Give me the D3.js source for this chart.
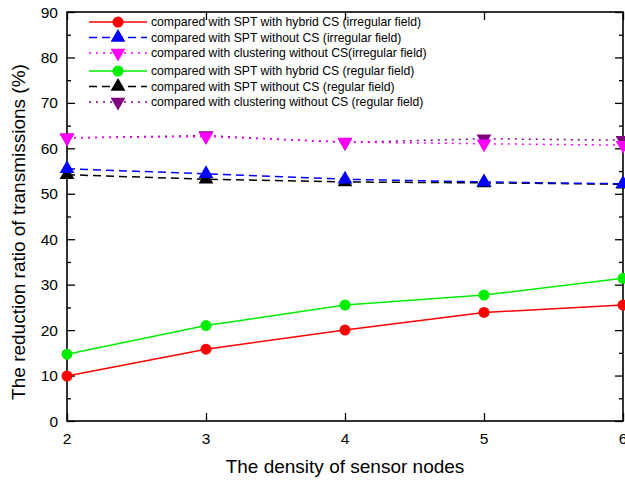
<!DOCTYPE html>
<html>
<head>
<meta charset="utf-8">
<script src="https://cdn.jsdelivr.net/npm/d3@7"></script>
<style>
  html, body { margin: 0; padding: 0; background: #fff; }
  svg { display: block; font-family: "Liberation Sans", Arial, sans-serif; }
</style>
</head>
<body>
<svg id="chart" width="625" height="481"></svg>
<script>
// Sensor node density (x axis)
const density = [2, 3, 4, 5, 6];

// Reduction ratio of transmissions (%) for each comparison
const sptHybridIrregular = [9.9, 15.8, 20.0, 23.9, 25.5];
const sptNoCsIrregular = [55.5, 54.4, 53.2, 52.6, 52.2];
const clusterNoCsIrregular = [62.3, 62.6, 61.4, 61.0, 60.7];
const sptHybridRegular = [14.7, 21.0, 25.5, 27.7, 31.4];
const sptNoCsRegular = [54.2, 53.2, 52.6, 52.4, 52.1];
const clusterNoCsRegular = [62.3, 62.8, 61.3, 62.1, 61.8];

const legendNames = [
  "compared with SPT with hybrid CS (irregular field)",
  "compared with SPT without CS (irregular field)",
  "compared with clustering without CS(irregular field)",
  "compared with SPT with hybrid CS (regular field)",
  "compared with SPT without CS (regular field)",
  "compared with clustering without CS (regular field)"
];

const yTicks = [0, 10, 20, 30, 40, 50, 60, 70, 80, 90];
const xTicks = [2, 3, 4, 5, 6];

const series = [
  { name: legendNames[0], values: sptHybridIrregular, color: "#ff0000", dash: null, marker: "circle" },
  { name: legendNames[1], values: sptNoCsIrregular, color: "#0000ff", dash: "8,5", marker: "up" },
  { name: legendNames[2], values: clusterNoCsIrregular, color: "#ff00ff", dash: "2,5", marker: "down" },
  { name: legendNames[3], values: sptHybridRegular, color: "#00ee00", dash: null, marker: "circle" },
  { name: legendNames[4], values: sptNoCsRegular, color: "#000000", dash: "8,5", marker: "up" },
  { name: legendNames[5], values: clusterNoCsRegular, color: "#800080", dash: "2,5", marker: "down" }
];

const svg = d3.select("#chart");
const margin = { left: 67, right: 2, top: 12, bottom: 60 };
const W = 625, H = 481;
const x0 = margin.left, x1 = W - margin.right;
const y0 = H - margin.bottom, y1 = margin.top;

const x = d3.scaleLinear().domain([2, 6]).range([x0, x1]);
const y = d3.scaleLinear().domain([0, 90]).range([y0, y1]);

// Axes with inward ticks
const minorY = d3.range(5, 90, 10);
const axisStyle = g => {
  g.select(".domain").remove();
  g.selectAll("line").attr("stroke", "#000").attr("stroke-width", 1.3);
};

// left
svg.append("g").attr("transform", `translate(${x0},0)`)
  .call(d3.axisRight(y).tickValues(yTicks).tickSize(8).tickFormat(""))
  .call(axisStyle);
svg.append("g").attr("transform", `translate(${x0},0)`)
  .call(d3.axisRight(y).tickValues(minorY).tickSize(4).tickFormat(""))
  .call(axisStyle);
// right
svg.append("g").attr("transform", `translate(${x1},0)`)
  .call(d3.axisLeft(y).tickValues(yTicks).tickSize(8).tickFormat(""))
  .call(axisStyle);
svg.append("g").attr("transform", `translate(${x1},0)`)
  .call(d3.axisLeft(y).tickValues(minorY).tickSize(4).tickFormat(""))
  .call(axisStyle);
// bottom
svg.append("g").attr("transform", `translate(0,${y0})`)
  .call(d3.axisTop(x).tickValues(xTicks).tickSize(8).tickFormat(""))
  .call(axisStyle);
// top
svg.append("g").attr("transform", `translate(0,${y1})`)
  .call(d3.axisBottom(x).tickValues(xTicks).tickSize(8).tickFormat(""))
  .call(axisStyle);

// Tick labels
svg.append("g").selectAll("text").data(yTicks).join("text")
  .attr("x", x0 - 9).attr("y", d => y(d) + 5.5)
  .attr("text-anchor", "end").attr("font-size", 15.5).attr("fill", "#000")
  .text(d => d);
svg.append("g").selectAll("text").data(xTicks).join("text")
  .attr("x", d => x(d)).attr("y", y0 + 23)
  .attr("text-anchor", "middle").attr("font-size", 15.5).attr("fill", "#000")
  .text(d => d);

// Frame
svg.append("rect")
  .attr("x", x0).attr("y", y1).attr("width", x1 - x0).attr("height", y0 - y1)
  .attr("fill", "none").attr("stroke", "#000").attr("stroke-width", 1.6);

// Axis titles
svg.append("text")
  .attr("x", (x0 + x1) / 2).attr("y", 473)
  .attr("text-anchor", "middle").attr("font-size", 19).attr("fill", "#000")
  .text("The density of sensor nodes");
svg.append("text")
  .attr("transform", `translate(25,232) rotate(-90)`)
  .attr("text-anchor", "middle").attr("font-size", 19).attr("fill", "#000")
  .text("The reduction ratio of transmissions (%)");

// Marker drawing
const triUp = d3.symbol().type(d3.symbolTriangle).size(95);
function drawMarker(g, kind, color, cx, cy) {
  if (kind === "circle") {
    g.append("circle").attr("cx", cx).attr("cy", cy).attr("r", 5.5).attr("fill", color);
  } else {
    g.append("path").attr("d", triUp())
      .attr("transform", `translate(${cx},${cy})` + (kind === "down" ? " rotate(180)" : ""))
      .attr("fill", color);
  }
}

const line = d3.line().x((d, i) => x(density[i])).y(d => y(d));

// Regular-field curves go underneath, irregular-field curves on top
const drawOrder = [3, 4, 5, 0, 1, 2];
const plot = svg.append("g");
drawOrder.forEach(k => {
  const s = series[k];
  const g = plot.append("g");
  g.append("path").datum(s.values)
    .attr("d", line)
    .attr("fill", "none")
    .attr("stroke", s.color)
    .attr("stroke-width", 1.5)
    .attr("stroke-dasharray", s.dash);
  s.values.forEach((v, i) => drawMarker(g, s.marker, s.color, x(density[i]), y(v)));
});

// Legend
const legend = svg.append("g");
const legendY = [22, 37.5, 53, 71, 86.5, 102];
series.forEach((s, i) => {
  const ly = legendY[i];
  legend.append("line")
    .attr("x1", 89).attr("x2", 147).attr("y1", ly).attr("y2", ly)
    .attr("stroke", s.color).attr("stroke-width", 1.5)
    .attr("stroke-dasharray", s.dash);
  drawMarker(legend, s.marker, s.color, 118, ly);
  legend.append("text")
    .attr("x", 151).attr("y", ly + 4.3)
    .attr("font-size", 12.2).attr("fill", "#000")
    .text(s.name);
});
</script>
</body>
</html>
